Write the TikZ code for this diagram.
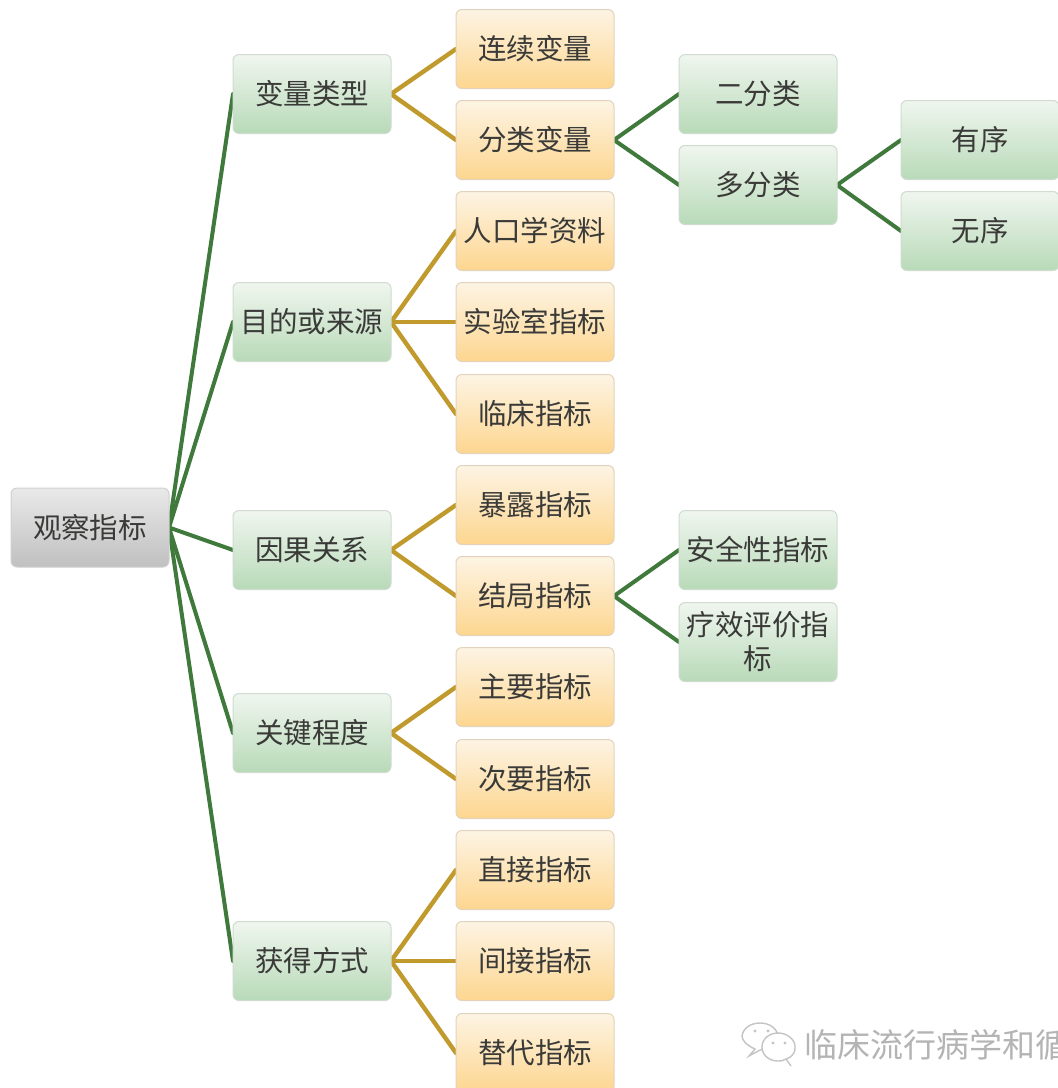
\documentclass[tikz,border=0pt]{standalone}
\usepackage{fontspec}
\setmainfont{Noto Sans CJK SC}
\definecolor{ink}{HTML}{3A3A38}
\definecolor{greenline}{HTML}{3F7A3C}
\definecolor{goldline}{HTML}{C09A2C}
\definecolor{markgray}{HTML}{C4C4C4}
\definecolor{marktext}{HTML}{B4B4B4}
\definecolor{greentop}{HTML}{F0F6EF}
\definecolor{greenbot}{HTML}{B8DAB8}
\definecolor{greenedge}{HTML}{CFDCCF}
\definecolor{orangetop}{HTML}{FDF4E4}
\definecolor{orangebot}{HTML}{FDD68F}
\definecolor{orangeedge}{HTML}{E3D3BC}
\definecolor{graytop}{HTML}{E9E9E9}
\definecolor{graybot}{HTML}{C0C0C0}
\definecolor{grayedge}{HTML}{D0D0D0}
\pgfdeclarelayer{linklayer}
\pgfsetlayers{linklayer,main}
\tikzset{
  x=1pt,y=-1pt,
  basebox/.style={rounded corners=6pt,minimum width=158pt,minimum height=79pt,text width=150pt,align=center,inner sep=0pt,outer sep=0pt,text=ink,font=\fontsize{28.5}{34}\selectfont,line width=1pt},
  rootbox/.style={basebox,draw=grayedge,top color=graytop,bottom color=graybot},
  greenbox/.style={basebox,draw=greenedge,top color=greentop,bottom color=greenbot},
  orangebox/.style={basebox,draw=orangeedge,top color=orangetop,bottom color=orangebot},
  greenlink/.style={draw=greenline,line width=4pt,line cap=round},
  goldlink/.style={draw=goldline,line width=4.4pt,line cap=round},
  marktextstyle/.style={inner sep=0pt,text=marktext,font=\fontsize{33}{33}\selectfont},
  bubble/.style={draw=markgray,line width=1.4pt,fill=white},
  bubbledot/.style={fill=markgray,draw=none}
}
\begin{document}
\begin{tikzpicture}
\useasboundingbox (0,0) rectangle (1058,1088);
\begin{pgfonlayer}{linklayer}
\fill[white] (0,0) rectangle (1058,1088);
\end{pgfonlayer}
\begin{scope}
\clip (0,0) rectangle (1058,1088);
\node[rootbox] (root) at (90,527.5) {观察指标};
\node[greenbox] (a1) at (312,94) {变量类型};
\node[greenbox] (a2) at (312,322) {目的或来源};
\node[greenbox] (a3) at (312,550) {因果关系};
\node[greenbox] (a4) at (312,733) {关键程度};
\node[greenbox] (a5) at (312,961) {获得方式};
\node[orangebox] (b1) at (535,49) {连续变量};
\node[orangebox] (b2) at (535,140) {分类变量};
\node[orangebox] (b3) at (535,231) {人口学资料};
\node[orangebox] (b4) at (535,322) {实验室指标};
\node[orangebox] (b5) at (535,414) {临床指标};
\node[orangebox] (b6) at (535,505) {暴露指标};
\node[orangebox] (b7) at (535,596) {结局指标};
\node[orangebox] (b8) at (535,687) {主要指标};
\node[orangebox] (b9) at (535,779) {次要指标};
\node[orangebox] (b10) at (535,870) {直接指标};
\node[orangebox] (b11) at (535,961) {间接指标};
\node[orangebox] (b12) at (535,1053) {替代指标};
\node[greenbox] (c1) at (758,94) {二分类};
\node[greenbox] (c2) at (758,185) {多分类};
\node[greenbox] (c3) at (758,550) {安全性指标};
\node[greenbox] (c4) at (758,642) {疗效评价指\\标};
\node[greenbox] (d1) at (980,140) {有序};
\node[greenbox] (d2) at (980,231) {无序};
% watermark
\draw[bubble] (749,1056) -- (755,1049) .. controls (746,1045) and (742,1040) .. (742,1036) .. controls (743,1028) and (751,1023) .. (760,1023) .. controls (769,1023) and (777,1028) .. (778,1036) .. controls (778,1044) and (769,1050) .. (760,1050) -- cycle;
\draw[bubble] (791,1066) -- (786,1059) .. controls (795,1056) and (795,1050) .. (795,1047) .. controls (795,1039) and (787,1033) .. (778,1033) .. controls (769,1033) and (762,1039) .. (762,1047) .. controls (762,1055) and (769,1061) .. (778,1061) .. controls (781,1061) and (783,1061) .. (786,1059);
\foreach \p in {(755,1031),(768,1031),(773,1043),(785,1043)} \fill[bubbledot] \p circle (1.6pt);
\node[marktextstyle,anchor=west] (mark) at (804,1045) {临床流行病学和循};
\end{scope}
\begin{pgfonlayer}{linklayer}
\foreach \t in {a1,a2,a3,a4,a5} \draw[greenlink] (root.east) -- (\t.west);
\foreach \t in {b1,b2} \draw[goldlink] (a1.east) -- (\t.west);
\foreach \t in {b3,b4,b5} \draw[goldlink] (a2.east) -- (\t.west);
\foreach \t in {b6,b7} \draw[goldlink] (a3.east) -- (\t.west);
\foreach \t in {b8,b9} \draw[goldlink] (a4.east) -- (\t.west);
\foreach \t in {b10,b11,b12} \draw[goldlink] (a5.east) -- (\t.west);
\foreach \t in {c1,c2} \draw[greenlink] (b2.east) -- (\t.west);
\foreach \t in {c3,c4} \draw[greenlink] (b7.east) -- (\t.west);
\foreach \t in {d1,d2} \draw[greenlink] (c2.east) -- (\t.west);
\end{pgfonlayer}
\end{tikzpicture}
\end{document}
